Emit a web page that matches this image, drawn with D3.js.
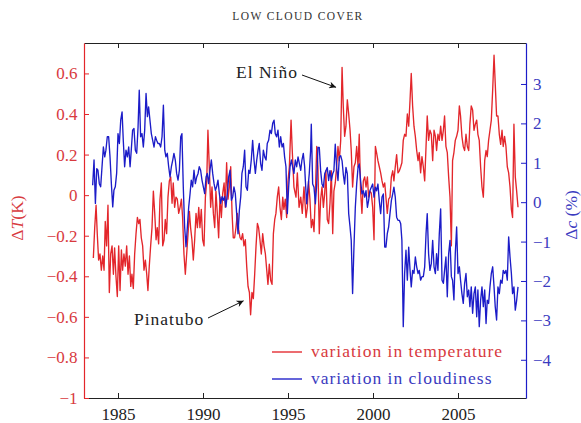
<!DOCTYPE html>
<html>
<head>
<meta charset="utf-8">
<script src="https://cdn.jsdelivr.net/npm/d3@7"></script>
<style>
  html, body { margin: 0; padding: 0; background: #fff; }
  svg { display: block; }
  svg text { font-family: "Liberation Serif", "Times New Roman", Times, "DejaVu Serif", serif !important; }
</style>
</head>
<body>
<svg id="chart" width="581" height="423"></svg>
<script>
// ---------------- DATA ----------------
const chartTitle = "LOW CLOUD COVER";

// Temperature anomaly ΔT (K): [year, value]
const temperature = [
[1983.55,-0.31],[1983.63,-0.16],[1983.71,-0.05],[1983.78,-0.19],[1983.86,-0.32],[1983.94,-0.29],
[1984.02,-0.37],[1984.10,-0.30],[1984.18,-0.37],[1984.25,-0.13],[1984.33,-0.25],[1984.41,-0.05],
[1984.49,-0.48],[1984.57,-0.29],[1984.65,-0.25],[1984.73,-0.39],[1984.80,-0.26],[1984.88,-0.40],
[1984.96,-0.50],[1985.04,-0.25],[1985.12,-0.47],[1985.20,-0.27],[1985.27,-0.37],[1985.35,-0.29],
[1985.43,-0.35],[1985.51,-0.25],[1985.59,-0.39],[1985.67,-0.30],[1985.75,-0.45],[1985.82,-0.39],
[1985.90,-0.46],[1985.98,-0.29],[1986.06,-0.19],[1986.14,-0.11],[1986.22,-0.14],[1986.29,-0.12],
[1986.37,-0.21],[1986.45,-0.25],[1986.53,-0.37],[1986.61,-0.32],[1986.69,-0.39],[1986.76,-0.47],
[1986.84,-0.35],[1986.92,-0.25],[1987.00,-0.16],[1987.08,0.02],[1987.16,-0.09],[1987.24,-0.22],
[1987.31,-0.16],[1987.39,-0.24],[1987.47,-0.02],[1987.55,0.06],[1987.63,-0.25],[1987.71,-0.22],
[1987.78,-0.12],[1987.86,-0.19],[1987.94,-0.01],[1988.02,0.07],[1988.10,0.09],[1988.18,-0.04],
[1988.25,0.06],[1988.33,-0.06],[1988.41,-0.01],[1988.49,-0.02],[1988.57,-0.09],[1988.65,-0.06],
[1988.73,-0.02],[1988.80,-0.11],[1988.88,-0.29],[1988.96,-0.39],[1989.04,-0.29],[1989.12,-0.19],
[1989.20,-0.08],[1989.27,-0.16],[1989.35,-0.22],[1989.43,-0.32],[1989.51,-0.22],[1989.59,-0.09],
[1989.67,-0.16],[1989.75,-0.06],[1989.82,-0.16],[1989.90,-0.07],[1989.98,-0.22],[1990.06,-0.25],
[1990.14,-0.01],[1990.22,0.07],[1990.29,0.32],[1990.37,0.14],[1990.45,-0.06],[1990.53,0.04],
[1990.61,-0.09],[1990.69,-0.16],[1990.76,0.02],[1990.84,-0.09],[1990.92,-0.21],[1991.00,-0.01],
[1991.08,-0.11],[1991.16,0.01],[1991.24,0.06],[1991.31,-0.06],[1991.39,0.16],[1991.47,-0.02],
[1991.55,0.04],[1991.63,0.14],[1991.71,-0.09],[1991.78,-0.21],[1991.86,-0.21],[1991.94,-0.16],
[1992.02,-0.09],[1992.10,-0.17],[1992.18,-0.21],[1992.25,-0.22],[1992.33,-0.19],[1992.41,-0.25],
[1992.49,-0.22],[1992.57,-0.35],[1992.65,-0.45],[1992.73,-0.48],[1992.80,-0.59],[1992.88,-0.48],
[1992.96,-0.51],[1993.04,-0.39],[1993.12,-0.25],[1993.20,-0.14],[1993.27,-0.16],[1993.35,-0.22],
[1993.43,-0.29],[1993.51,-0.19],[1993.59,-0.25],[1993.67,-0.29],[1993.75,-0.37],[1993.82,-0.44],
[1993.90,-0.34],[1993.98,-0.42],[1994.06,-0.44],[1994.14,-0.19],[1994.22,-0.12],[1994.29,-0.09],
[1994.37,-0.01],[1994.45,0.04],[1994.53,-0.06],[1994.61,-0.12],[1994.69,-0.01],[1994.76,-0.07],
[1994.84,-0.02],[1994.92,-0.11],[1995.00,0.07],[1995.08,0.14],[1995.18,0.37],[1995.25,0.22],
[1995.35,0.04],[1995.47,-0.01],[1995.55,0.11],[1995.65,-0.06],[1995.75,-0.01],[1995.84,-0.09],
[1995.94,0.04],[1996.06,-0.11],[1996.14,-0.06],[1996.21,0.07],[1996.29,-0.02],[1996.37,-0.16],
[1996.45,-0.12],[1996.53,-0.18],[1996.61,0.01],[1996.69,0.24],[1996.76,0.14],[1996.84,-0.19],
[1996.92,-0.02],[1997.00,0.04],[1997.08,-0.06],[1997.16,0.01],[1997.23,0.12],[1997.31,-0.12],
[1997.39,-0.14],[1997.47,-0.04],[1997.55,0.12],[1997.63,-0.19],[1997.70,0.02],[1997.78,0.06],
[1997.86,0.14],[1997.94,0.24],[1998.02,0.17],[1998.10,0.27],[1998.18,0.63],[1998.25,0.44],
[1998.33,0.29],[1998.41,0.34],[1998.49,0.47],[1998.57,0.40],[1998.65,0.32],[1998.72,0.22],
[1998.80,0.04],[1998.88,0.14],[1998.96,0.16],[1999.04,0.24],[1999.12,0.14],[1999.19,0.30],
[1999.27,0.02],[1999.35,-0.09],[1999.43,0.07],[1999.51,0.09],[1999.59,0.04],[1999.67,0.09],
[1999.74,-0.01],[1999.82,0.02],[1999.90,0.01],[1999.98,-0.06],[2000.06,-0.22],[2000.14,0.24],
[2000.21,0.21],[2000.29,0.17],[2000.37,0.14],[2000.45,0.11],[2000.53,0.07],[2000.61,0.04],
[2000.69,0.06],[2000.76,-0.01],[2000.84,-0.09],[2000.92,-0.02],[2001.00,-0.01],[2001.08,0.09],
[2001.16,0.12],[2001.23,0.07],[2001.31,0.14],[2001.39,0.20],[2001.47,0.11],[2001.55,0.12],
[2001.63,0.14],[2001.70,0.16],[2001.78,0.27],[2001.86,0.30],[2001.94,0.29],[2002.02,0.40],
[2002.10,0.34],[2002.18,0.47],[2002.25,0.60],[2002.33,0.44],[2002.41,0.34],[2002.49,0.29],
[2002.57,0.22],[2002.65,0.17],[2002.72,0.21],[2002.80,0.11],[2002.88,0.19],[2002.96,0.14],
[2003.04,0.07],[2003.12,0.24],[2003.19,0.39],[2003.27,0.27],[2003.35,0.32],[2003.43,0.30],
[2003.51,0.17],[2003.59,0.32],[2003.67,0.29],[2003.74,0.22],[2003.82,0.30],[2003.90,0.27],
[2003.98,0.34],[2004.06,0.27],[2004.14,0.32],[2004.21,0.39],[2004.29,0.24],[2004.37,0.21],
[2004.45,0.09],[2004.53,-0.01],[2004.61,-0.25],[2004.68,0.17],[2004.76,0.21],[2004.84,0.27],
[2004.92,0.29],[2005.00,0.32],[2005.08,0.44],[2005.15,0.39],[2005.23,0.29],[2005.31,0.24],
[2005.39,0.22],[2005.47,0.30],[2005.55,0.24],[2005.63,0.22],[2005.70,0.35],[2005.78,0.44],
[2005.86,0.42],[2005.94,0.32],[2006.02,0.35],[2006.10,0.37],[2006.17,0.30],[2006.25,0.27],
[2006.33,0.14],[2006.41,0.04],[2006.49,-0.01],[2006.57,0.17],[2006.65,0.22],[2006.72,0.19],
[2006.80,0.27],[2006.88,0.32],[2006.96,0.37],[2007.04,0.52],[2007.12,0.69],[2007.19,0.55],
[2007.27,0.39],[2007.35,0.39],[2007.43,0.30],[2007.51,0.25],[2007.59,0.32],[2007.66,0.24],
[2007.74,0.29],[2007.82,0.24],[2007.90,0.14],[2007.98,0.11],[2008.06,0.04],[2008.14,-0.07],
[2008.21,-0.11],[2008.29,0.35],[2008.37,0.09],[2008.45,0.02],[2008.53,-0.06]
];

// Low cloud cover anomaly Δc (%): [year, value]
const cloudiness = [
[1983.51,0.43],[1983.59,1.07],[1983.67,-0.03],[1983.75,0.85],[1983.82,0.81],[1983.90,0.47],
[1983.98,0.39],[1984.06,0.90],[1984.14,1.40],[1984.22,1.15],[1984.29,1.32],[1984.37,1.66],
[1984.45,1.66],[1984.53,1.15],[1984.61,0.47],[1984.69,-0.12],[1984.76,0.30],[1984.84,0.39],
[1984.92,0.73],[1985.00,1.74],[1985.08,1.49],[1985.16,2.08],[1985.24,2.29],[1985.31,1.57],
[1985.39,0.90],[1985.47,1.32],[1985.55,1.15],[1985.63,1.40],[1985.71,0.90],[1985.78,1.32],
[1985.86,1.83],[1985.94,1.87],[1986.02,1.32],[1986.10,1.24],[1986.18,1.91],[1986.25,2.84],
[1986.33,1.66],[1986.41,1.74],[1986.49,1.40],[1986.57,1.83],[1986.65,2.76],[1986.73,2.17],
[1986.80,2.42],[1986.88,2.08],[1986.96,1.74],[1987.04,1.57],[1987.12,1.40],[1987.20,1.66],
[1987.27,1.57],[1987.35,1.49],[1987.43,1.49],[1987.51,1.40],[1987.59,1.66],[1987.67,2.46],
[1987.75,1.32],[1987.82,1.15],[1987.90,1.24],[1987.98,0.90],[1988.06,0.64],[1988.14,0.90],
[1988.22,1.07],[1988.29,1.24],[1988.37,1.07],[1988.45,0.73],[1988.53,0.56],[1988.61,0.81],
[1988.69,1.66],[1988.76,1.74],[1988.84,0.39],[1988.92,-0.63],[1989.00,-1.13],[1989.08,-0.63],
[1989.16,-0.12],[1989.24,0.22],[1989.31,0.56],[1989.39,0.39],[1989.47,0.81],[1989.55,0.47],
[1989.63,0.64],[1989.71,0.73],[1989.78,0.90],[1989.86,0.81],[1989.94,0.56],[1990.02,0.39],
[1990.10,0.22],[1990.18,0.64],[1990.25,0.73],[1990.33,0.47],[1990.41,0.81],[1990.49,1.07],
[1990.57,0.73],[1990.65,0.47],[1990.73,0.30],[1990.80,0.39],[1990.88,0.56],[1990.96,0.22],
[1991.04,-0.03],[1991.12,0.14],[1991.20,0.05],[1991.27,0.14],[1991.35,-0.12],[1991.43,0.22],
[1991.51,0.64],[1991.59,0.81],[1991.67,0.05],[1991.75,0.14],[1991.82,0.39],[1991.90,0.22],
[1991.98,-0.29],[1992.06,-0.80],[1992.14,-0.20],[1992.22,0.14],[1992.29,0.73],[1992.37,0.90],
[1992.45,1.32],[1992.53,0.39],[1992.61,0.30],[1992.69,0.81],[1992.76,0.73],[1992.84,1.07],
[1992.92,1.57],[1993.00,1.07],[1993.08,0.73],[1993.16,1.07],[1993.24,1.32],[1993.31,1.49],
[1993.39,0.98],[1993.47,0.81],[1993.55,1.32],[1993.63,1.15],[1993.71,1.07],[1993.78,1.49],
[1993.86,1.57],[1993.94,1.83],[1994.02,1.74],[1994.10,2.00],[1994.18,2.08],[1994.25,1.74],
[1994.33,1.66],[1994.41,1.83],[1994.49,1.40],[1994.57,1.66],[1994.65,1.40],[1994.73,1.49],
[1994.80,1.15],[1994.88,0.90],[1994.96,-0.29],[1995.04,0.39],[1995.12,0.90],[1995.20,1.07],
[1995.27,0.90],[1995.35,0.73],[1995.43,1.07],[1995.51,0.90],[1995.59,1.15],[1995.67,0.98],
[1995.75,0.81],[1995.82,1.07],[1995.90,1.24],[1995.98,0.90],[1996.02,0.55],[1996.10,-0.04],
[1996.18,0.38],[1996.25,0.72],[1996.33,1.31],[1996.37,1.98],[1996.45,0.46],[1996.53,0.38],
[1996.61,-0.04],[1996.69,0.46],[1996.76,1.39],[1996.84,1.39],[1996.92,0.80],[1997.00,0.46],
[1997.08,0.38],[1997.16,0.72],[1997.23,0.80],[1997.31,0.88],[1997.39,0.55],[1997.47,0.80],
[1997.55,0.55],[1997.63,0.72],[1997.70,0.80],[1997.78,1.47],[1997.86,0.88],[1997.94,0.55],
[1998.02,1.14],[1998.10,1.18],[1998.18,1.05],[1998.25,0.72],[1998.33,0.46],[1998.41,0.88],
[1998.49,0.72],[1998.57,-0.29],[1998.65,-0.63],[1998.72,-0.97],[1998.80,-2.32],[1998.88,-1.14],
[1998.96,-0.13],[1999.04,0.46],[1999.12,0.88],[1999.19,0.97],[1999.27,0.55],[1999.35,0.21],
[1999.43,0.29],[1999.51,0.13],[1999.59,0.29],[1999.67,-0.13],[1999.74,0.04],[1999.82,0.29],
[1999.90,0.38],[1999.98,0.46],[2000.06,0.13],[2000.14,0.38],[2000.21,0.29],[2000.29,0.46],
[2000.37,0.04],[2000.45,-0.29],[2000.53,0.13],[2000.61,0.21],[2000.69,-1.14],[2000.76,-1.14],
[2000.84,-0.80],[2000.92,-0.63],[2001.00,-0.29],[2001.08,0.04],[2001.16,0.21],[2001.23,0.38],
[2001.31,0.13],[2001.39,-0.38],[2001.47,-0.46],[2001.55,-0.46],[2001.63,-0.55],[2001.70,-0.97],
[2001.78,-3.16],[2001.86,-1.81],[2001.94,-1.22],[2002.02,-1.98],[2002.10,-1.14],[2002.18,-1.73],
[2002.25,-2.15],[2002.33,-1.73],[2002.41,-1.81],[2002.49,-1.39],[2002.57,-1.64],[2002.65,-1.81],
[2002.72,-1.73],[2002.80,-1.98],[2002.88,-1.89],[2002.96,-1.89],[2003.04,-1.64],[2003.12,-0.80],
[2003.19,-0.29],[2003.27,-1.31],[2003.35,-1.73],[2003.43,-1.56],[2003.51,-0.97],[2003.59,-1.64],
[2003.67,-1.81],[2003.74,-1.31],[2003.82,-1.73],[2003.90,-0.80],[2003.98,-0.17],[2004.06,-1.98],
[2004.14,-2.06],[2004.21,-1.73],[2004.29,-1.39],[2004.37,-2.40],[2004.45,-1.31],[2004.53,-0.97],
[2004.61,-1.89],[2004.68,-1.98],[2004.76,-2.48],[2004.84,-1.31],[2004.92,-0.63],[2005.00,-1.81],
[2005.08,-1.64],[2005.15,-1.98],[2005.23,-2.32],[2005.31,-2.57],[2005.39,-2.06],[2005.47,-1.81],
[2005.55,-2.40],[2005.63,-2.23],[2005.70,-2.65],[2005.78,-2.15],[2005.86,-2.82],[2005.94,-2.32],
[2006.02,-2.15],[2006.10,-2.91],[2006.17,-2.23],[2006.25,-3.16],[2006.33,-2.49],[2006.41,-2.15],
[2006.49,-2.65],[2006.57,-2.23],[2006.65,-3.08],[2006.72,-2.49],[2006.80,-2.57],[2006.88,-2.15],
[2006.96,-1.81],[2007.04,-1.64],[2007.12,-2.15],[2007.19,-2.65],[2007.27,-2.99],[2007.35,-2.15],
[2007.43,-2.32],[2007.51,-1.98],[2007.59,-2.06],[2007.66,-1.73],[2007.74,-1.81],[2007.82,-1.73],
[2007.90,-1.98],[2007.98,-0.88],[2008.06,-1.39],[2008.14,-1.81],[2008.21,-2.32],[2008.29,-2.15],
[2008.37,-2.74],[2008.45,-2.49],[2008.53,-2.15]
];

const yearTicks = [1985, 1990, 1995, 2000, 2005];
const yearTickLabels = ["1985", "1990", "1995", "2000", "2005"];
const tempTicks = [-1, -0.8, -0.6, -0.4, -0.2, 0, 0.2, 0.4, 0.6];
const tempTickLabels = ["\u22121", "\u22120.8", "\u22120.6", "\u22120.4", "\u22120.2", "0", "0.2", "0.4", "0.6"];
const cloudTicks = [-4, -3, -2, -1, 0, 1, 2, 3];
const cloudTickLabels = ["\u22124", "\u22123", "\u22122", "\u22121", "0", "1", "2", "3"];
const seriesNames = ["variation in temperature", "variation in cloudiness"];
const annotations = [
  { label: "El Niño", year: 1998.18, value: 0.63 },
  { label: "Pinatubo", year: 1992.80, value: -0.59 }
];

// ---------------- STYLE / LAYOUT ----------------
const RED = "#e3262b", BLUE = "#1c1cc8", RED_TXT = "#d83a3e", BLUE_TXT = "#3b3bbf", DARK = "#222";
const plot = { left: 84, right: 526, top: 43, bottom: 398 };
const FS = 17;          // tick labels
const FS_TXT = 17.5;    // legend / annotations
const LS_TXT = 1.0;     // letter spacing to mimic the wider Computer Modern face

const svg = d3.select("#chart");

const x = d3.scaleLinear().domain([1983, 2009]).range([plot.left, plot.right]);
const yT = d3.scaleLinear().domain([-1, 0.75]).range([plot.bottom, plot.top]);
const yC = d3.scaleLinear().domain([-4.97, 4.04]).range([plot.bottom, plot.top]);

// Title
svg.append("text")
  .attr("x", 298).attr("y", 20)
  .attr("text-anchor", "middle")
  .attr("font-size", 11.5).attr("letter-spacing", 1.4)
  .attr("fill", "#333")
  .text(chartTitle);

// Lines
const lineT = d3.line().x(d => x(d[0])).y(d => yT(d[1]));
const lineC = d3.line().x(d => x(d[0])).y(d => yC(d[1]));

svg.append("path").datum(temperature)
  .attr("fill", "none").attr("stroke", RED).attr("stroke-width", 1.35)
  .attr("stroke-linejoin", "round").attr("d", lineT);
svg.append("path").datum(cloudiness)
  .attr("fill", "none").attr("stroke", BLUE).attr("stroke-width", 1.35)
  .attr("stroke-linejoin", "round").attr("d", lineC);

// Axes
function styleAxis(g, color, txtColor) {
  g.attr("font-family", null);
  g.select(".domain").attr("stroke", color).attr("stroke-width", 1.2);
  g.selectAll(".tick line").attr("stroke", color).attr("stroke-width", 1);
  g.selectAll(".tick text").attr("fill", txtColor).attr("font-size", FS);
}

const gBottom = svg.append("g").attr("transform", `translate(0,${plot.bottom})`)
  .call(d3.axisBottom(x).tickValues(yearTicks)
    .tickFormat((d, i) => yearTickLabels[i]).tickSizeInner(-5).tickSizeOuter(0).tickPadding(9.5));
styleAxis(gBottom, DARK, DARK);

const gTop = svg.append("g").attr("transform", `translate(0,${plot.top})`)
  .call(d3.axisTop(x).tickValues(yearTicks).tickFormat("").tickSizeInner(-5).tickSizeOuter(0));
styleAxis(gTop, DARK, DARK);

const gLeft = svg.append("g").attr("transform", `translate(${plot.left},0)`)
  .call(d3.axisLeft(yT).tickValues(tempTicks)
    .tickFormat((d, i) => tempTickLabels[i]).tickSizeInner(-5).tickSizeOuter(0).tickPadding(6.5));
styleAxis(gLeft, RED, RED_TXT);

const gRight = svg.append("g").attr("transform", `translate(${plot.right},0)`)
  .call(d3.axisRight(yC).tickValues(cloudTicks)
    .tickFormat((d, i) => cloudTickLabels[i]).tickSizeInner(-5).tickSizeOuter(0).tickPadding(7));
styleAxis(gRight, BLUE, BLUE_TXT);

// Axis titles
const yl = svg.append("text")
  .attr("transform", "translate(23,218) rotate(-90)")
  .attr("text-anchor", "middle").attr("font-size", 17.5).attr("fill", RED_TXT);
yl.append("tspan").text("Δ");
yl.append("tspan").attr("font-style", "italic").text("T");
yl.append("tspan").text("(K)");

const yr = svg.append("text")
  .attr("transform", "translate(577,215) rotate(-90)")
  .attr("text-anchor", "middle").attr("font-size", 17.5).attr("fill", BLUE_TXT);
yr.append("tspan").text("Δ");
yr.append("tspan").attr("font-style", "italic").text("c");
yr.append("tspan").text(" (%)");

// Legend
const legend = svg.append("g");
[[RED, RED_TXT, 352], [BLUE, BLUE_TXT, 379]].forEach(([c, tc, yy], i) => {
  legend.append("line").attr("x1", 272).attr("x2", 302).attr("y1", yy).attr("y2", yy)
    .attr("stroke", c).attr("stroke-width", 1.35);
  legend.append("text").attr("x", 311).attr("y", yy + 5).attr("font-size", FS_TXT)
    .attr("letter-spacing", LS_TXT).attr("fill", tc).text(seriesNames[i]);
});

// Annotations with arrows
const defs = svg.append("defs");
defs.append("marker").attr("id", "arrow").attr("viewBox", "0 0 10 10")
  .attr("refX", 10).attr("refY", 5).attr("markerWidth", 10).attr("markerHeight", 7)
  .attr("markerUnits", "userSpaceOnUse").attr("orient", "auto")
  .append("path").attr("d", "M0,0 L10,5 L0,10 L3,5 Z").attr("fill", "#111");

// El Niño
const en = annotations[0];
svg.append("text").attr("x", 236).attr("y", 78).attr("font-size", FS_TXT)
  .attr("letter-spacing", LS_TXT).attr("fill", "#222").text(en.label);
svg.append("line").attr("x1", 302).attr("y1", 75)
  .attr("x2", x(en.year) - 6).attr("y2", yT(en.value) + 20)
  .attr("stroke", "#111").attr("stroke-width", 1).attr("marker-end", "url(#arrow)");

// Pinatubo
const pn = annotations[1];
svg.append("text").attr("x", 134).attr("y", 325).attr("font-size", FS_TXT)
  .attr("letter-spacing", LS_TXT).attr("fill", "#222").text(pn.label);
svg.append("line").attr("x1", 208).attr("y1", 318)
  .attr("x2", x(pn.year) - 7).attr("y2", yT(pn.value) - 14)
  .attr("stroke", "#111").attr("stroke-width", 1).attr("marker-end", "url(#arrow)");
</script>
</body>
</html>
